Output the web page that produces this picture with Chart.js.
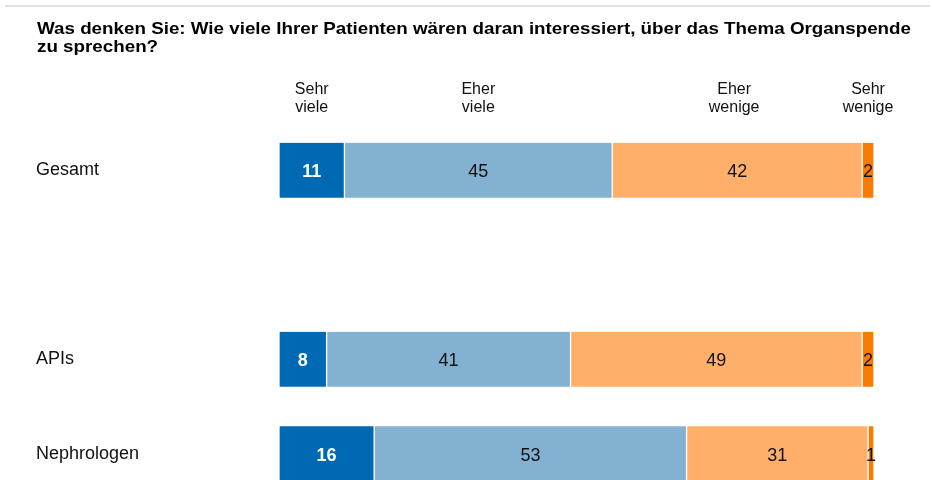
<!DOCTYPE html>
<html>
<head>
<meta charset="utf-8">
<script src="https://cdn.jsdelivr.net/npm/chart.js@4.4.0/dist/chart.umd.min.js"></script>
<style>
  html, body { margin: 0; padding: 0; background: #fff; overflow: hidden; width: 932px; height: 480px; }
  #wrap { position: relative; width: 932px; height: 520px; }
</style>
</head>
<body>
<div id="wrap"><canvas id="c" width="932" height="520"></canvas></div>
<script>
const titleLines = ["Was denken Sie: Wie viele Ihrer Patienten wären daran interessiert, über das Thema Organspende", "zu sprechen?"];
const categories = ["Gesamt", "", "APIs", "Nephrologen"];
const seriesNames = ["Sehr viele", "Eher viele", "Eher wenige", "Sehr wenige"];
const headerLines = [["Sehr", "viele"], ["Eher", "viele"], ["Eher", "wenige"], ["Sehr", "wenige"]];
const sehrViele   = [11, null, 8, 16];
const eherViele   = [45, null, 41, 52.5];
const eherWenige  = [42, null, 49, 30.5];
const sehrWenige  = [2, null, 2, 1];
const seriesColors = ["#0069B4", "#82B1D2", "#FFAF69", "#F97C00"];

const allSeries = [sehrViele, eherViele, eherWenige, sehrWenige];

const decorPlugin = {
  id: 'decor',
  beforeDraw(chart) {
    const ctx = chart.ctx;
    ctx.save();
    ctx.fillStyle = '#fff';
    ctx.fillRect(0, 0, chart.width, chart.height);
    ctx.strokeStyle = '#dde4e4';
    ctx.lineWidth = 2;
    ctx.beginPath();
    ctx.moveTo(5, 6);
    ctx.lineTo(930, 6);
    ctx.stroke();
    // title
    ctx.fillStyle = '#000';
    ctx.font = 'bold 17px "Liberation Sans", Arial, sans-serif';
    ctx.textBaseline = 'alphabetic';
    ctx.textAlign = 'left';
    titleLines.forEach((t, i) => {
      ctx.save();
      ctx.translate(37, 34 + i * 18);
      ctx.scale(1.105, 1);
      ctx.fillText(t, 0, 0);
      ctx.restore();
    });
    ctx.restore();
  },
  afterDatasetsDraw(chart) {
    const ctx = chart.ctx;
    ctx.save();
    ctx.textAlign = 'center';
    // headers above Gesamt row segments
    ctx.font = '16px "Liberation Sans", Arial, sans-serif';
    ctx.fillStyle = '#111';
    ctx.textBaseline = 'alphabetic';
    chart.data.datasets.forEach((ds, di) => {
      const el = chart.getDatasetMeta(di).data[0];
      const cx = (el.x + el.base) / 2 - (di === 2 ? 3 : 0);
      headerLines[di].forEach((t, li) => ctx.fillText(t, cx, 94 + li * 17.5));
    });
    // value labels
    ctx.textBaseline = 'middle';
    chart.data.datasets.forEach((ds, di) => {
      const meta = chart.getDatasetMeta(di);
      meta.data.forEach((el, i) => {
        const v = ds.data[i];
        if (v === null || v === undefined) return;
        const cx = (el.x + el.base) / 2;
        if (di === 0) {
          ctx.font = 'bold 18px "Liberation Sans", Arial, sans-serif';
          ctx.fillStyle = '#fff';
        } else {
          ctx.font = '18px "Liberation Sans", Arial, sans-serif';
          ctx.fillStyle = '#111';
        }
        ctx.fillText(String(Math.round(v)), cx, el.y + 2);
      });
    });
    ctx.restore();
  }
};

new Chart(document.getElementById('c'), {
  type: 'bar',
  data: {
    labels: categories,
    datasets: allSeries.map((d, i) => ({
      label: seriesNames[i],
      data: d,
      backgroundColor: seriesColors[i],
      borderColor: '#ffffff',
      borderWidth: { left: 1, right: 1, top: 0, bottom: 0 },
      borderSkipped: false,
      barThickness: 55
    }))
  },
  options: {
    indexAxis: 'y',
    responsive: false,
    animation: false,
    events: [],
    layout: { padding: { top: 123, bottom: 19, left: 36, right: 58 } },
    plugins: { legend: { display: false }, title: { display: false }, tooltip: { enabled: false } },
    scales: {
      x: { stacked: true, min: 0, max: 100, display: false },
      y: {
        stacked: true,
        grid: { display: false, drawTicks: false },
        border: { display: false },
        ticks: {
          crossAlign: 'far',
          color: '#111',
          font: { size: 18, family: '"Liberation Sans", Arial, sans-serif' },
          padding: 0
        },
        afterFit(scale) { scale.width = 243; }
      }
    }
  },
  plugins: [decorPlugin]
});
</script>
</body>
</html>
